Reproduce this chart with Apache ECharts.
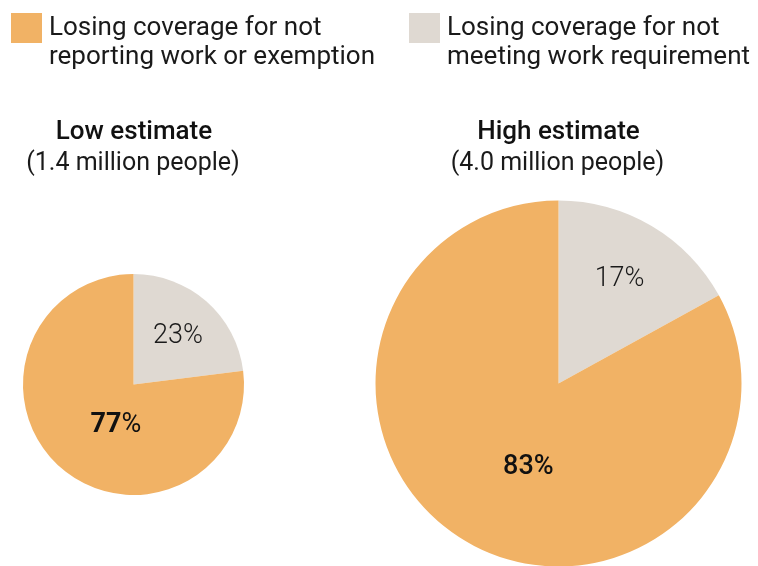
<!DOCTYPE html>
<html>
<head>
<meta charset="utf-8">
<script src="https://cdn.jsdelivr.net/npm/echarts@6/dist/echarts.min.js"></script>
<style>
  html, body { margin: 0; padding: 0; background: #fff; }
  #chart { width: 758px; height: 566px; }
</style>
</head>
<body>
<div id="chart"></div>
<script>
  // legend / slice names
  var categories = [
    'Losing coverage for not\nreporting work or exemption',
    'Losing coverage for not\nmeeting work requirement'
  ];
  // one pie per estimate
  var pieTitles = ['Low estimate', 'High estimate'];
  var pieSubtitles = ['(1.4 million people)', '(4.0 million people)'];
  var notReporting = [77, 83];   // % orange
  var notMeeting = [23, 17];     // % grey

  var ORANGE = '#f1b265';
  var GREY = '#dfd9d2';
  var FONT = 'Roboto';

  // layout of the two pies
  var centers = [[133.5, 384.5], [558.5, 383.5]];
  var radii = [110.5, 183];
  var titleX = [134, 558.5];
  // nudge labels from the ring midpoint
  var greyOffset = [[6, -5], [13, -23]];
  var orangeOffset = [[21, -3], [18, 2]];
  var orangeWeight = [[700, 400], [500, 500]];

  function pieSeries(i) {
    return {
      type: 'pie',
      center: centers[i],
      radius: [0, radii[i]],
      startAngle: 90,
      clockwise: true,
      silent: true,
      animation: false,
      labelLine: { show: false },
      itemStyle: { borderWidth: 0 },
      label: {
        position: 'inside',
        color: '#1a1a1a',
        fontFamily: FONT
      },
      data: [
        {
          name: categories[1],
          value: notMeeting[i],
          itemStyle: { color: GREY },
          label: {
            offset: greyOffset[i],
            formatter: function (p) { return '{v|' + p.value + '%}'; },
            rich: { v: { fontSize: 27, fontWeight: 300, fontFamily: FONT, color: '#1a1a1a' } }
          }
        },
        {
          name: categories[0],
          value: notReporting[i],
          itemStyle: { color: ORANGE },
          label: {
            offset: orangeOffset[i],
            formatter: function (p) { return '{n|' + p.value + '}{p|%}'; },
            rich: {
              n: { fontSize: 27, fontWeight: orangeWeight[i][0], fontFamily: FONT, color: '#111' },
              p: { fontSize: 27, fontWeight: orangeWeight[i][1], fontFamily: FONT, color: '#111' }
            }
          }
        }
      ]
    };
  }

  // empty first line pushes the text below the square's centre
  function legendAt(name, left) {
    return {
      data: [name],
      left: left,
      top: -2,
      padding: 0,
      orient: 'horizontal',
      icon: 'rect',
      itemWidth: 31,
      itemHeight: 30,
      selectedMode: false,
      formatter: function (n) {
        return '{e| }\n' + n.split('\n').map(function (s) { return '{t|' + s + '}'; }).join('\n');
      },
      textStyle: {
        color: '#1a1a1a',
        rich: {
          e: { fontSize: 2, lineHeight: 30 },
          t: { fontFamily: FONT, fontSize: 26, fontWeight: 400, lineHeight: 29, color: '#1a1a1a', padding: [0, 0, 0, 2] }
        }
      }
    };
  }

  var titles = [];
  for (var i = 0; i < 2; i++) {
    titles.push({
      type: 'text', x: titleX[i], y: 132,
      style: { text: pieTitles[i], fill: '#111', font: '500 26px ' + FONT,
               align: 'center', verticalAlign: 'middle', textAlign: 'center', textVerticalAlign: 'middle' }
    });
    titles.push({
      type: 'text', x: titleX[i] - 1, y: 164,
      style: { text: pieSubtitles[i], fill: '#1a1a1a', font: '400 25px ' + FONT,
               align: 'center', verticalAlign: 'middle', textAlign: 'center', textVerticalAlign: 'middle' }
    });
  }

  var chart = echarts.init(document.getElementById('chart'), null, { renderer: 'canvas' });
  chart.setOption({
    backgroundColor: '#fff',
    animation: false,
    legend: [legendAt(categories[0], 11), legendAt(categories[1], 409)],
    graphic: titles,
    series: [pieSeries(0), pieSeries(1)]
  });
</script>
</body>
</html>
